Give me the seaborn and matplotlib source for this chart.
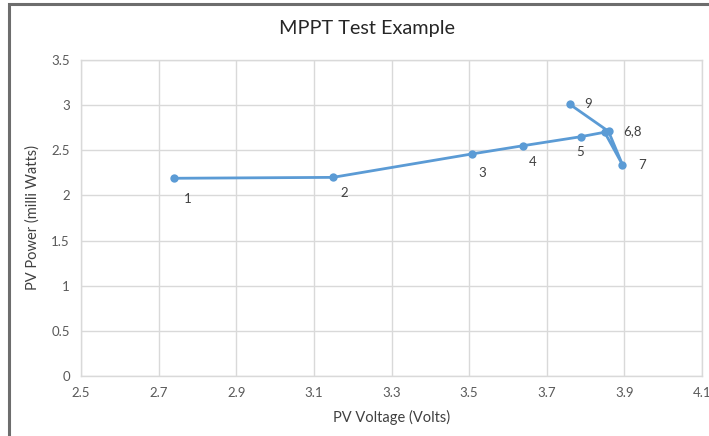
import pandas as pd
import seaborn as sns
import matplotlib.pyplot as plt
from matplotlib.patches import Rectangle

# Readings in the order they were taken
step = ['1', '2', '3', '4', '5', '6', '7', '8', '9']
pv_voltage = [2.739, 3.149, 3.508, 3.638, 3.787, 3.849, 3.895, 3.859, 3.759]
pv_power = [2.19, 2.20, 2.46, 2.55, 2.65, 2.70, 2.34, 2.71, 3.01]

# point labels (6 and 8 share one label)
point_labels = ['1', '2', '3', '4', '5', '6,8', '7', '', '9']
label_offsets = [(10, -15), (8, -11), (7, -14), (7, -12), (0, -11), (20, 1), (14, 0), (0, 0), (13, 0)]

df = pd.DataFrame({'step': step, 'voltage': pv_voltage, 'power': pv_power})

sns.set_style('white')
plt.rcParams['font.family'] = ['Lato', 'DejaVu Sans']

fig = plt.figure(figsize=(7.09, 4.36), dpi=100)
ax = fig.add_axes([0.1142, 0.1376, 0.876, 0.7248])

sns.lineplot(data=df, x='voltage', y='power', sort=False, estimator=None,
             color='#5b9bd5', linewidth=2.0, marker='o', markersize=6,
             markeredgewidth=0, ax=ax)

for xv, yv, lab, off in zip(pv_voltage, pv_power, point_labels, label_offsets):
    if lab:
        ax.annotate(lab, (xv, yv), xytext=off, textcoords='offset points',
                    ha='center', va='center', fontsize=9.5, color='#404040')

ax.set_xlim(2.5, 4.1)
ax.set_ylim(0, 3.5)
ax.set_xticks([2.5, 2.7, 2.9, 3.1, 3.3, 3.5, 3.7, 3.9, 4.1])
ax.set_xticklabels(['2.5', '2.7', '2.9', '3.1', '3.3', '3.5', '3.7', '3.9', '4.1'])
ax.set_yticks([0, 0.5, 1, 1.5, 2, 2.5, 3, 3.5])
ax.set_yticklabels(['0', '0.5', '1', '1.5', '2', '2.5', '3', '3.5'])
ax.grid(True, color='#d9d9d9', linewidth=1)
for s in ax.spines.values():
    s.set_color('#d9d9d9')
    s.set_linewidth(1)
ax.tick_params(length=0, labelsize=9.5, labelcolor='#595959', pad=8)

ax.set_xlabel('PV Voltage (Volts)', fontsize=10.5, color='#404040', labelpad=8)
ax.set_ylabel('PV Power (milli Watts)', fontsize=10.5, color='#404040', labelpad=8)
fig.text(0.518, 0.935, 'MPPT Test Example', ha='center', va='center',
         fontsize=14.3, color='#262626')

# chart outline
fig.patches.append(Rectangle((0.013, -0.05), 1.2, 1.04, transform=fig.transFigure,
                             fill=False, edgecolor='#6d6d6d', linewidth=2.2))

fig.savefig('out.png', dpi=100)
